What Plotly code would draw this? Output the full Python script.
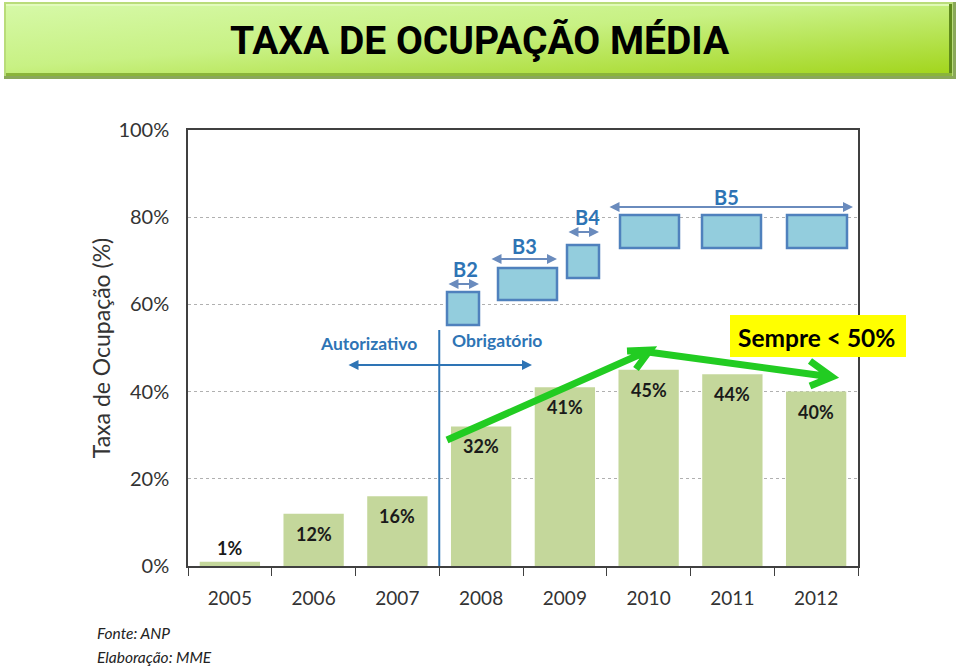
import base64
import plotly.graph_objects as go

# ---- data ----
years = ["2005", "2006", "2007", "2008", "2009", "2010", "2011", "2012"]
occupancy = [1, 12, 16, 32, 41, 45, 44, 40]
y_ticks = [0, 20, 40, 60, 80, 100]
y_tick_labels = ["0%", "20%", "40%", "60%", "80%", "100%"]

# ---- geometry helpers (pixel -> data / paper) ----
L, R, T, B = 188, 858, 130, 566
FW, FH = 960, 668
n = len(years)
cw = (R - L) / n


def dx(px):
    return (px - L) / cw - 0.5


def dy(py):
    return (B - py) / (B - T) * 100


def pxp(px):
    return (px - L) / (R - L)


def pyp(py):
    return (B - py) / (B - T)


xs = list(range(n))
fig = go.Figure()
fig.add_trace(go.Bar(x=xs, y=occupancy, width=0.72, marker=dict(color="#c4d79b", line=dict(width=0)),
                     hoverinfo="skip"))

FONT = "Lato, 'Open Sans', sans-serif"
ann = []
shapes = []

# bar value labels
for i, v in enumerate(occupancy):
    ann.append(dict(x=i, y=v, xref="x", yref="y", text=f"<b>{v}%</b>", showarrow=False,
                    xanchor="center", yanchor="middle",
                    yshift=14 if v < 5 else -20, font=dict(family=FONT, size=18, color="#1a1a1a")))

# banner (svg gradient)
svg = """<svg xmlns="http://www.w3.org/2000/svg" width="952" height="77" viewBox="0 0 952 77" preserveAspectRatio="none">
<defs><linearGradient id="g" x1="0" y1="0" x2="1" y2="1">
<stop offset="0" stop-color="#d6f9a8"/><stop offset="0.45" stop-color="#c8f184"/><stop offset="1" stop-color="#a2d51c"/></linearGradient></defs>
<rect x="0" y="0" width="952" height="77" fill="#8aa85a"/>
<rect x="0" y="0" width="949" height="74" fill="#b9dc7a"/>
<rect x="2" y="2" width="945" height="70" fill="url(#g)"/>
<rect x="2" y="2" width="945" height="2" fill="#e6fbc4" opacity="0.8"/>
<rect x="945" y="2" width="3" height="72" fill="#5f8a1c"/>
<rect x="2" y="71" width="946" height="3" fill="#8ab43a"/>
</svg>"""
src = "data:image/svg+xml;base64," + base64.b64encode(svg.encode()).decode()
images = [dict(source=src, xref="paper", yref="paper", x=pxp(4), y=pyp(2), sizex=952 / (R - L),
               sizey=77 / (B - T), xanchor="left", yanchor="top", sizing="stretch", layer="below")]

ann.append(dict(x=pxp(480), y=pyp(41), xref="paper", yref="paper", showarrow=False,
                xanchor="center", yanchor="middle",
                text="<b>TAXA DE OCUPAÇÃO MÉDIA</b>",
                font=dict(family="'Liberation Sans Narrow', 'Arial Narrow', Roboto, sans-serif", size=39,
                          color="#000000")))

# regulatory phase boxes
BOX_FILL, BOX_LINE = "#93cddd", "#4f81bd"
boxes = [(447, 292, 479, 325), (498, 268, 557, 300), (567, 245, 599, 278),
         (620, 215, 679, 248), (702, 215, 761, 248), (787, 215, 847, 248)]
for (x0, y0, x1, y1) in boxes:
    shapes.append(dict(type="rect", xref="x", yref="y", x0=dx(x0), x1=dx(x1), y0=dy(y0), y1=dy(y1),
                       fillcolor=BOX_FILL, line=dict(color=BOX_LINE, width=2.5)))

ARROW_C = "#6a8bbd"
phase_arrows = [("B2", 447, 479, 284, 465, 269), ("B3", 490, 557, 259, 524, 246),
                ("B4", 567, 599, 232, 587, 217), ("B5", 608, 853, 207, 726, 197)]
for name, x0, x1, yy, tx, ty in phase_arrows:
    ann.append(dict(x=dx(x1), y=dy(yy), ax=dx(x0), ay=dy(yy), xref="x", yref="y", axref="x", ayref="y",
                    text="", showarrow=True, arrowhead=2, startarrowhead=2, arrowside="end+start",
                    arrowsize=1, startarrowsize=1, arrowwidth=2, arrowcolor=ARROW_C))
    ann.append(dict(x=dx(tx), y=dy(ty), xref="x", yref="y", text=f"<b>{name}</b>", showarrow=False,
                    xanchor="center", yanchor="middle",
                    font=dict(family=FONT, size=20, color="#2e74b5")))

# Autorizativo / Obrigatorio
BLUE = "#2e74b5"
shapes.append(dict(type="line", xref="x", yref="y", x0=2.5, x1=2.5, y0=0, y1=dy(330),
                   line=dict(color=BLUE, width=2)))
ann.append(dict(x=dx(532), y=dy(365), ax=dx(347), ay=dy(365), xref="x", yref="y", axref="x", ayref="y",
                text="", showarrow=True, arrowhead=2, startarrowhead=2, arrowside="end+start",
                arrowsize=1, startarrowsize=1, arrowwidth=2, arrowcolor=BLUE))
ann.append(dict(x=dx(368), y=dy(343), xref="x", yref="y", text="<b>Autorizativo</b>", showarrow=False,
                xanchor="center", yanchor="middle",
                font=dict(family=FONT, size=17.5, color=BLUE)))
ann.append(dict(x=dx(497), y=dy(340), xref="x", yref="y", text="<b>Obrigatório</b>", showarrow=False,
                xanchor="center", yanchor="middle",
                font=dict(family=FONT, size=17.5, color=BLUE)))

# green trend arrows
GREEN = "#22cc22"
trend = [((447, 440), (650, 350), (627, 351), (636, 369)),
         ((648, 352), (832, 377), (810, 361), (810, 386))]
for (a, tip, arm1, arm2) in trend:
    path = (f"M {dx(a[0])},{dy(a[1])} L {dx(tip[0])},{dy(tip[1])} "
            f"M {dx(arm1[0])},{dy(arm1[1])} L {dx(tip[0])},{dy(tip[1])} L {dx(arm2[0])},{dy(arm2[1])}")
    shapes.append(dict(type="path", xref="x", yref="y", path=path, line=dict(color=GREEN, width=7)))

# Sempre < 50%
shapes.append(dict(type="rect", xref="paper", yref="paper", x0=pxp(730), x1=pxp(906), y0=pyp(357), y1=pyp(315),
                   fillcolor="#ffff00", line=dict(width=0)))
ann.append(dict(x=pxp(816), y=pyp(337), xref="paper", yref="paper", text="<b>Sempre &lt; 50%</b>",
                xanchor="center", yanchor="middle",
                showarrow=False, font=dict(family=FONT, size=24.5, color="#000000")))

# source
ann.append(dict(x=pxp(95), y=pyp(633), xref="paper", yref="paper", xanchor="left", yanchor="middle",
                showarrow=False,
                text="<i>Fonte: ANP</i>", font=dict(family=FONT, size=15.5, color="#222222")))
ann.append(dict(x=pxp(95), y=pyp(657), xref="paper", yref="paper", xanchor="left", yanchor="middle",
                showarrow=False,
                text="<i>Elaboração: MME</i>", font=dict(family=FONT, size=15.5, color="#222222")))

fig.update_layout(
    width=FW, height=FH, margin=dict(l=L, r=FW - R, t=T, b=FH - B),
    paper_bgcolor="white", plot_bgcolor="white", showlegend=False,
    annotations=ann, shapes=shapes, images=images,
    xaxis=dict(range=[-0.5, n - 0.5], tickvals=xs, ticktext=years, ticks="", showgrid=False,
               zeroline=False, showline=True, linecolor="#404040", linewidth=1.5, mirror=True,
               tickfont=dict(family=FONT, size=19, color="#333333"), ticklabelstandoff=14,
               minor=dict(tick0=0.5, dtick=1, ticks="outside", ticklen=8, tickcolor="#404040",
                          showgrid=False)),
    yaxis=dict(range=[0, 100], tickvals=y_ticks, ticktext=y_tick_labels, ticks="",
               showgrid=True, gridcolor="#b0b0b0", griddash="3px,3px", gridwidth=1,
               zeroline=False, showline=True, linecolor="#404040", linewidth=1.5, mirror=True,
               tickfont=dict(family=FONT, size=20, color="#333333"), ticklabelstandoff=13,
               title=dict(text="Taxa de Ocupação (%)", font=dict(family=FONT, size=23, color="#333333"),
                          standoff=1)),
)

fig.write_html("out.html")
